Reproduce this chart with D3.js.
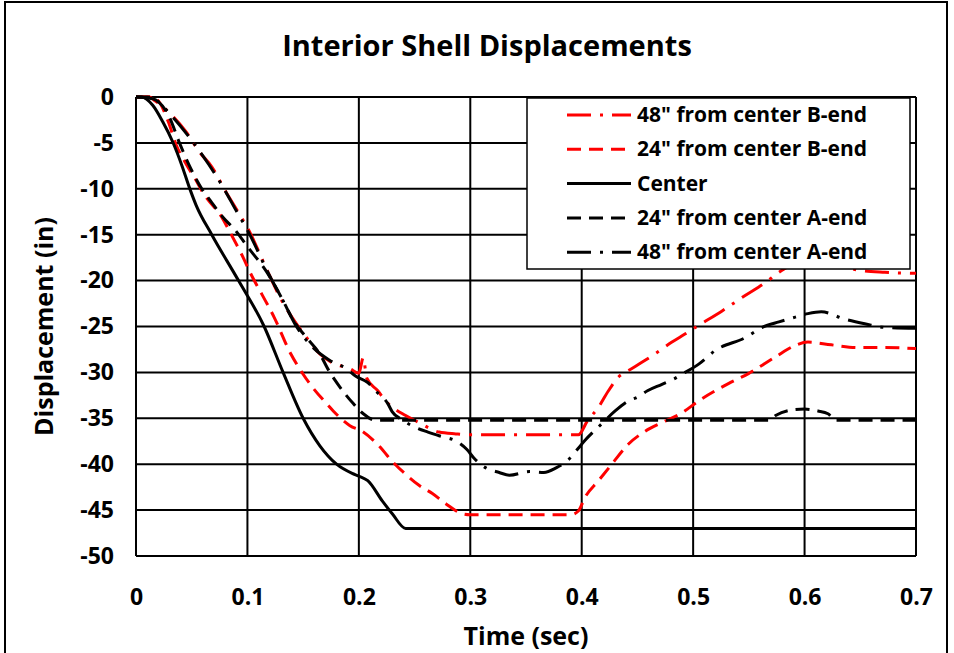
<!DOCTYPE html>
<html>
<head>
<meta charset="utf-8">
<script src="https://cdn.jsdelivr.net/npm/d3@7"></script>
<style>
  body { margin: 0; background: #fff; }
  svg { display: block; font-family: 'Open Sans', sans-serif; font-weight: bold; }
</style>
</head>
<body>
<div class="chart"></div>
<script>
// series, in legend order: [time (sec), displacement (in)]
const seriesNames = ['48" from center B-end', '24" from center B-end', 'Center', '24" from center A-end', '48" from center A-end'];
const seriesColors = ['#ff0000', '#ff0000', '#000000', '#000000', '#000000'];
const seriesDash = ['24,9,3,9', '14,8', null, '14,8', '24,9,3,9'];

const b48 = [[0,0],[0.012,0],[0.017,-0.4],[0.028,-1.5],[0.045,-3.8],[0.057,-6],[0.068,-7.6],[0.081,-10.4],[0.09,-12.2],[0.102,-14.7],[0.117,-18.7],[0.13,-22],[0.144,-24.7],[0.153,-26.2],[0.165,-28],[0.177,-29],[0.192,-29.6],[0.2,-30.1],[0.204,-28.4],[0.207,-30.6],[0.217,-32],[0.224,-33.1],[0.242,-34.7],[0.253,-35.4],[0.272,-36.5],[0.287,-36.7],[0.3,-36.8],[0.397,-36.8],[0.405,-35.3],[0.415,-33.8],[0.424,-32],[0.433,-30.5],[0.442,-29.8],[0.454,-28.9],[0.463,-28.2],[0.481,-26.7],[0.493,-25.8],[0.502,-25.1],[0.526,-23.3],[0.547,-21.6],[0.565,-20.2],[0.577,-19.1],[0.6,-17.8],[0.625,-18.1],[0.65,-18.9],[0.672,-19.1],[0.7,-19.2]];
const b24 = [[0,0],[0.012,0],[0.019,-0.3],[0.029,-2.7],[0.036,-5.2],[0.045,-7.3],[0.054,-9.1],[0.06,-10.4],[0.077,-13.1],[0.086,-15.1],[0.095,-17.2],[0.104,-19.5],[0.113,-21.5],[0.124,-24],[0.139,-28],[0.15,-30.2],[0.157,-31.4],[0.171,-33.4],[0.177,-34.2],[0.192,-35.8],[0.203,-36.4],[0.218,-38],[0.23,-39.7],[0.242,-41.1],[0.254,-42.3],[0.266,-43.2],[0.278,-44.3],[0.293,-45.4],[0.3,-45.5],[0.39,-45.5],[0.397,-45.1],[0.403,-43.6],[0.415,-41.8],[0.427,-40],[0.442,-37.8],[0.457,-36.4],[0.475,-35.3],[0.49,-34.4],[0.505,-33.1],[0.532,-31.2],[0.55,-30.1],[0.574,-28.3],[0.591,-27.1],[0.603,-26.7],[0.624,-27],[0.648,-27.3],[0.672,-27.3],[0.7,-27.4]];
const center = [[0,0],[0.005,0],[0.015,-0.9],[0.024,-2.7],[0.033,-4.9],[0.041,-7.4],[0.048,-9.9],[0.054,-11.8],[0.068,-15],[0.092,-20],[0.115,-25],[0.132,-30],[0.15,-35],[0.165,-38],[0.18,-40],[0.194,-41],[0.2,-41.3],[0.208,-41.8],[0.221,-44],[0.23,-45.4],[0.242,-47],[0.7,-47]];
const a24 = [[0,0],[0.01,0],[0.02,-0.5],[0.03,-2.2],[0.039,-5],[0.048,-7.5],[0.059,-10],[0.068,-11.5],[0.078,-13.1],[0.089,-14.5],[0.1,-16.3],[0.117,-19],[0.132,-22.2],[0.141,-24.3],[0.153,-26.2],[0.165,-28],[0.173,-29.8],[0.183,-31.6],[0.195,-33.4],[0.204,-34.5],[0.215,-35.2],[0.568,-35.2],[0.574,-34.7],[0.588,-34.1],[0.6,-34],[0.612,-34.2],[0.621,-34.5],[0.628,-35.2],[0.7,-35.2]];
const a48 = [[0,0],[0.015,-0.2],[0.033,-2.2],[0.051,-4.9],[0.065,-7.3],[0.079,-10],[0.09,-12.4],[0.1,-14.5],[0.12,-19.5],[0.132,-22.2],[0.144,-25],[0.159,-27.3],[0.174,-28.7],[0.189,-29.6],[0.197,-30.4],[0.208,-31.1],[0.215,-32],[0.226,-33.4],[0.23,-34.3],[0.238,-35.1],[0.251,-36],[0.262,-36.5],[0.272,-36.9],[0.289,-37.6],[0.297,-38.4],[0.303,-39.3],[0.314,-40.4],[0.326,-40.9],[0.335,-41.2],[0.353,-40.8],[0.366,-40.9],[0.377,-40.4],[0.389,-39.4],[0.396,-38.4],[0.403,-37.4],[0.418,-35.6],[0.43,-34.2],[0.442,-33.1],[0.45,-32.7],[0.459,-32],[0.472,-31.3],[0.483,-30.7],[0.49,-30.2],[0.505,-29.1],[0.52,-27.6],[0.547,-26.2],[0.562,-25.1],[0.577,-24.5],[0.591,-24],[0.603,-23.6],[0.615,-23.4],[0.636,-24.2],[0.654,-24.7],[0.672,-25.1],[0.7,-25.2]];

const xTicks = [0, 0.1, 0.2, 0.3, 0.4, 0.5, 0.6, 0.7];
const yTicks = [0, -5, -10, -15, -20, -25, -30, -35, -40, -45, -50];

const seriesData = [b48, b24, center, a24, a48];

const w = 954;
const h = 653;
const margin = { top: 97, right: 38, bottom: 97, left: 136 };

const xScale = d3.scaleLinear()
                 .domain([0, 0.7])
                 .range([margin.left, w - margin.right]);

const yScale = d3.scaleLinear()
                 .domain([0, -50])
                 .range([margin.top, h - margin.bottom]);

const svg = d3.select('.chart')
              .append('svg')
              .attr('width', w)
              .attr('height', h);

// outer chart frame
svg.append('rect')
   .attr('x', 5)
   .attr('y', 2)
   .attr('width', 942)
   .attr('height', 700)
   .attr('fill', 'none')
   .attr('stroke', '#000')
   .attr('stroke-width', 2);

svg.append('text')
   .attr('x', 487)
   .attr('y', 56)
   .style('text-anchor', 'middle')
   .style('font-size', '29px')
   .text('Interior Shell Displacements');

// grid
svg.append('g')
   .selectAll('line')
   .data(xTicks)
   .enter()
   .append('line')
   .attr('x1', d => xScale(d))
   .attr('x2', d => xScale(d))
   .attr('y1', yScale(0))
   .attr('y2', yScale(-50))
   .attr('stroke', '#000')
   .attr('stroke-width', 2);

svg.append('g')
   .selectAll('line')
   .data(yTicks)
   .enter()
   .append('line')
   .attr('x1', xScale(0))
   .attr('x2', xScale(0.7))
   .attr('y1', d => yScale(d))
   .attr('y2', d => yScale(d))
   .attr('stroke', '#000')
   .attr('stroke-width', 2);

const xAxis = d3.axisBottom(xScale)
                .tickValues(xTicks)
                .tickSize(0)
                .tickPadding(33)
                .tickFormat(d => d === 0 ? '0' : d3.format('.1f')(d));

svg.append('g')
   .attr('class', 'axis')
   .attr('transform', `translate(0, ${h - margin.bottom})`)
   .call(xAxis)
   .call(g => g.select('.domain').remove())
   .selectAll('text')
   .style('font-size', '23px')
   .style('font-family', "'Open Sans', sans-serif")
   .style('font-weight', 'bold')
   .attr('fill', '#000');

const yAxis = d3.axisLeft(yScale)
                .tickValues(yTicks)
                .tickSize(0)
                .tickPadding(22)
                .tickFormat(d => String(d));

svg.append('g')
   .attr('class', 'axis')
   .attr('transform', `translate(${margin.left}, 0)`)
   .call(yAxis)
   .call(g => g.select('.domain').remove())
   .selectAll('text')
   .style('font-size', '23px')
   .style('font-family', "'Open Sans', sans-serif")
   .style('font-weight', 'bold')
   .attr('fill', '#000');

svg.append('text')
   .attr('x', (margin.left + w - margin.right) / 2)
   .attr('y', 645)
   .style('text-anchor', 'middle')
   .style('font-size', '25px')
   .text('Time (sec)');

svg.append('text')
   .attr('transform', 'rotate(-90)')
   .attr('x', -(margin.top + h - margin.bottom) / 2)
   .attr('y', 53)
   .style('text-anchor', 'middle')
   .style('font-size', '25px')
   .text('Displacement (in)');

// curves
const line = d3.line()
               .x(d => xScale(d[0]))
               .y(d => yScale(d[1]))
               .curve(d3.curveMonotoneX);

svg.append('g')
   .selectAll('path')
   .data(seriesData)
   .enter()
   .append('path')
   .attr('d', d => line(d))
   .attr('fill', 'none')
   .attr('stroke', (d, i) => seriesColors[i])
   .attr('stroke-width', 3)
   .attr('stroke-dasharray', (d, i) => seriesDash[i]);

// legend (white box sits over the plot)
const legend = svg.append('g');

legend.append('rect')
      .attr('x', 527)
      .attr('y', 98)
      .attr('width', 383)
      .attr('height', 171)
      .attr('fill', '#fff')
      .attr('stroke', '#000')
      .attr('stroke-width', 1.5);

const rows = legend.selectAll('g')
                   .data(seriesNames)
                   .enter()
                   .append('g')
                   .attr('transform', (d, i) => `translate(0, ${115 + i * 34.3})`);

rows.append('line')
    .attr('x1', 567)
    .attr('x2', 631)
    .attr('stroke', (d, i) => seriesColors[i])
    .attr('stroke-width', 3)
    .attr('stroke-dasharray', (d, i) => seriesDash[i]);

rows.append('text')
    .attr('x', 637)
    .attr('y', 7)
    .style('font-size', '21px')
    .text(d => d);
</script>
</body>
</html>
